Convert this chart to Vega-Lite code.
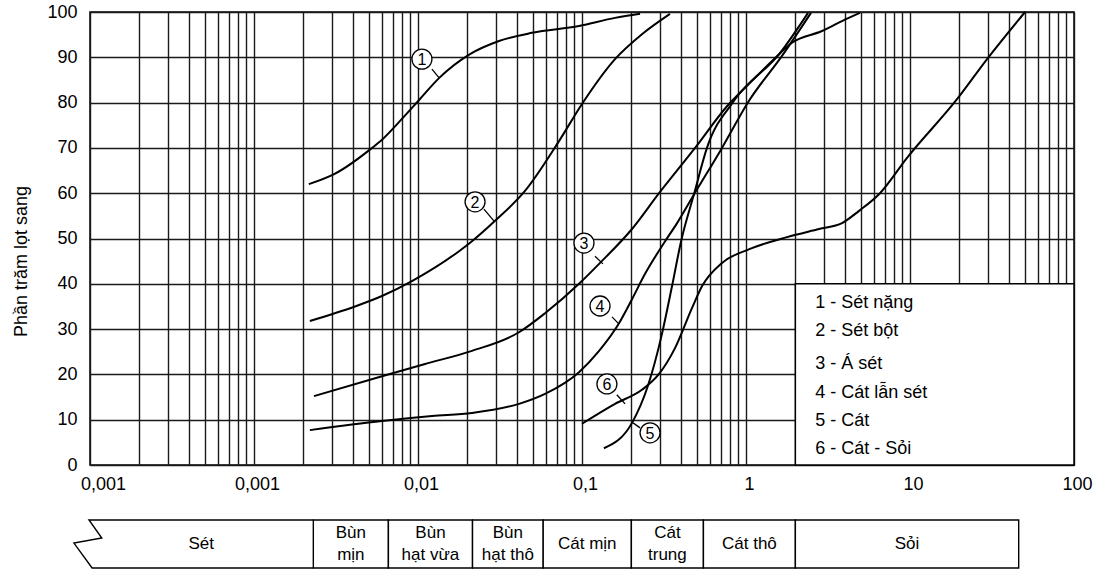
{
  "$schema": "https://vega.github.io/schema/vega-lite/v6.json",
  "background": "white",
  "padding": {"left": 12, "top": 2, "right": 5, "bottom": 2},
  "spacing": 23,
  "config": {
    "font": "Liberation Sans",
    "view": {"stroke": null},
    "axis": {"labelFont": "Liberation Sans", "titleFont": "Liberation Sans", "labelColor": "black", "titleColor": "black"}
  },
  "datasets": {
    "curves": [
      {"c": 1, "d": 0.00216, "p": 62.0}, {"c": 1, "d": 0.00308, "p": 64.2}, {"c": 1, "d": 0.00525, "p": 70.0}, {"c": 1, "d": 0.00603, "p": 71.8}, {"c": 1, "d": 0.00798, "p": 76.4}, {"c": 1, "d": 0.01028, "p": 80.8}, {"c": 1, "d": 0.01343, "p": 85.4}, {"c": 1, "d": 0.02075, "p": 90.7}, {"c": 1, "d": 0.0312, "p": 93.6}, {"c": 1, "d": 0.0496, "p": 95.4}, {"c": 1, "d": 0.0959, "p": 96.9}, {"c": 1, "d": 0.159, "p": 98.7}, {"c": 1, "d": 0.226, "p": 99.6},
      {"c": 2, "d": 0.00219, "p": 31.8}, {"c": 2, "d": 0.00413, "p": 35.0}, {"c": 2, "d": 0.00603, "p": 37.3}, {"c": 2, "d": 0.00918, "p": 40.6}, {"c": 2, "d": 0.0178, "p": 47.2}, {"c": 2, "d": 0.0207, "p": 49.0}, {"c": 2, "d": 0.0295, "p": 53.9}, {"c": 2, "d": 0.0449, "p": 60.5}, {"c": 2, "d": 0.0724, "p": 71.5}, {"c": 2, "d": 0.1, "p": 79.7}, {"c": 2, "d": 0.159, "p": 89.6}, {"c": 2, "d": 0.232, "p": 95.1}, {"c": 2, "d": 0.344, "p": 99.6},
      {"c": 3, "d": 0.00232, "p": 15.2}, {"c": 3, "d": 0.00603, "p": 19.6}, {"c": 3, "d": 0.01104, "p": 22.3}, {"c": 3, "d": 0.02134, "p": 25.2}, {"c": 3, "d": 0.0413, "p": 29.3}, {"c": 3, "d": 0.0595, "p": 33.5}, {"c": 3, "d": 0.0959, "p": 40.0}, {"c": 3, "d": 0.1271, "p": 44.4}, {"c": 3, "d": 0.2018, "p": 52.1}, {"c": 3, "d": 0.295, "p": 60.0}, {"c": 3, "d": 0.489, "p": 70.0}, {"c": 3, "d": 0.766, "p": 79.2}, {"c": 3, "d": 1.088, "p": 84.8}, {"c": 3, "d": 1.502, "p": 89.8}, {"c": 3, "d": 1.908, "p": 93.2}, {"c": 3, "d": 2.905, "p": 95.8}, {"c": 3, "d": 3.85, "p": 98.0}, {"c": 3, "d": 4.95, "p": 99.8},
      {"c": 4, "d": 0.00219, "p": 7.7}, {"c": 4, "d": 0.00603, "p": 9.7}, {"c": 4, "d": 0.01218, "p": 10.8}, {"c": 4, "d": 0.02134, "p": 11.5}, {"c": 4, "d": 0.0413, "p": 13.5}, {"c": 4, "d": 0.0595, "p": 15.7}, {"c": 4, "d": 0.0959, "p": 20.5}, {"c": 4, "d": 0.1271, "p": 25.2}, {"c": 4, "d": 0.1682, "p": 31.3}, {"c": 4, "d": 0.2018, "p": 36.6}, {"c": 4, "d": 0.2424, "p": 42.2}, {"c": 4, "d": 0.3212, "p": 49.4}, {"c": 4, "d": 0.38, "p": 53.4}, {"c": 4, "d": 0.469, "p": 59.0}, {"c": 4, "d": 0.714, "p": 70.0}, {"c": 4, "d": 1.043, "p": 80.4}, {"c": 4, "d": 1.658, "p": 90.3}, {"c": 4, "d": 2.49, "p": 99.8},
      {"c": 5, "d": 0.136, "p": 3.7}, {"c": 5, "d": 0.2018, "p": 9.3}, {"c": 5, "d": 0.2524, "p": 17.5}, {"c": 5, "d": 0.3076, "p": 29.0}, {"c": 5, "d": 0.354, "p": 39.5}, {"c": 5, "d": 0.402, "p": 49.4}, {"c": 5, "d": 0.482, "p": 59.8}, {"c": 5, "d": 0.578, "p": 70.0}, {"c": 5, "d": 0.845, "p": 80.4}, {"c": 5, "d": 1.611, "p": 90.9}, {"c": 5, "d": 2.39, "p": 99.8},
      {"c": 6, "d": 0.1, "p": 9.1}, {"c": 6, "d": 0.159, "p": 13.5}, {"c": 6, "d": 0.232, "p": 16.6}, {"c": 6, "d": 0.295, "p": 20.1}, {"c": 6, "d": 0.369, "p": 25.8}, {"c": 6, "d": 0.469, "p": 34.7}, {"c": 6, "d": 0.54, "p": 39.5}, {"c": 6, "d": 0.714, "p": 44.6}, {"c": 6, "d": 1.057, "p": 47.7}, {"c": 6, "d": 1.778, "p": 50.3}, {"c": 6, "d": 2.787, "p": 52.1}, {"c": 6, "d": 3.85, "p": 53.4}, {"c": 6, "d": 4.89, "p": 56.1}, {"c": 6, "d": 6.56, "p": 60.0}, {"c": 6, "d": 9.59, "p": 67.8}, {"c": 6, "d": 19.4, "p": 80.8}, {"c": 6, "d": 29.5, "p": 89.6}, {"c": 6, "d": 50.3, "p": 100}
    ],
    "tags": [
      {"n": "1", "d": 0.01057, "p": 89.6},
      {"n": "2", "d": 0.02228, "p": 58.1},
      {"n": "3", "d": 0.1028, "p": 49.0},
      {"n": "4", "d": 0.1288, "p": 35.1},
      {"n": "5", "d": 0.26, "p": 7.1},
      {"n": "6", "d": 0.1419, "p": 17.9}
    ],
    "leaders": [
      {"n": "1", "d1": 0.01216, "p1": 87.4, "d2": 0.01342, "p2": 85.5},
      {"n": "2", "d1": 0.02523, "p1": 56.5, "d2": 0.02902, "p2": 53.9},
      {"n": "3", "d1": 0.12, "p1": 46.1, "d2": 0.1342, "p2": 44.4},
      {"n": "4", "d1": 0.1524, "p1": 32.7, "d2": 0.1682, "p2": 31.1},
      {"n": "6", "d1": 0.163, "p1": 15.5, "d2": 0.183, "p2": 13.5},
      {"n": "5", "d1": 0.226, "p1": 8.2, "d2": 0.2048, "p2": 9.3}
    ],
    "legendbox": [{"d1": 2, "d2": 100, "p1": 0, "p2": 40}],
    "legend": [
      {"label": "1 - Sét nặng", "d": 2.64, "p": 35.8},
      {"label": "2 - Sét bột", "d": 2.64, "p": 29.6},
      {"label": "3 - Á sét", "d": 2.64, "p": 22.3},
      {"label": "4 - Cát lẫn sét", "d": 2.64, "p": 15.9},
      {"label": "5 - Cát", "d": 2.64, "p": 9.7},
      {"label": "6 - Cát - Sỏi", "d": 2.64, "p": 3.5}
    ],
    "bands": [
      {"name": "Sét", "lines": 1, "lo": 0.0000986, "hi": 0.0023},
      {"name": "Bùn\nmịn", "lines": 2, "lo": 0.0023, "hi": 0.0066},
      {"name": "Bùn\nhạt vừa", "lines": 2, "lo": 0.0066, "hi": 0.0215},
      {"name": "Bùn\nhạt thô", "lines": 2, "lo": 0.0215, "hi": 0.058},
      {"name": "Cát mịn", "lines": 1, "lo": 0.058, "hi": 0.2},
      {"name": "Cát\ntrung", "lines": 2, "lo": 0.2, "hi": 0.55},
      {"name": "Cát thô", "lines": 1, "lo": 0.55, "hi": 2.0},
      {"name": "Sỏi", "lines": 1, "lo": 2.0, "hi": 46}
    ],
    "zig": [
      {"i": 0, "d": 0.0023, "v": 1},
      {"i": 1, "d": 0.0000986, "v": 1},
      {"i": 2, "d": 0.000118, "v": 0.625},
      {"i": 3, "d": 0.0000798, "v": 0.52},
      {"i": 4, "d": 0.000103, "v": 0},
      {"i": 5, "d": 0.0023, "v": 0}
    ]
  },
  "vconcat": [
    {
      "width": 984,
      "height": 453,
      "view": {"stroke": "black", "strokeWidth": 1.5},
      "layer": [
        {
          "data": {"name": "curves"},
          "mark": {"type": "line", "interpolate": "monotone", "color": "black", "strokeWidth": 2},
          "encoding": {
            "x": {
              "field": "d", "type": "quantitative",
              "scale": {"type": "log", "domain": [0.0001, 100], "nice": false},
              "axis": {
                "title": null,
                "values": [0.0001, 0.0002, 0.0003, 0.0004, 0.0005, 0.0006, 0.0007, 0.0008, 0.0009, 0.001, 0.002, 0.003, 0.004, 0.005, 0.006, 0.007, 0.008, 0.009, 0.01, 0.02, 0.03, 0.04, 0.05, 0.06, 0.07, 0.08, 0.09, 0.1, 0.2, 0.3, 0.4, 0.5, 0.6, 0.7, 0.8, 0.9, 1, 2, 3, 4, 5, 6, 7, 8, 9, 10, 20, 30, 40, 50, 60, 70, 80, 90, 100],
                "labelExpr": "datum.value == 0.0001 ? '0,001' : datum.value == 0.001 ? '0,001' : datum.value == 0.01 ? '0,01' : datum.value == 0.1 ? '0,1' : datum.value == 1 ? '1' : datum.value == 10 ? '10' : datum.value == 100 ? '100' : ''",
                "grid": true, "gridColor": "#1a1a1a", "gridWidth": 1.4, "gridOpacity": 1,
                "ticks": false, "domain": false,
                "labelFontSize": 18, "labelPadding": 10,
                "labelOverlap": false, "labelFlush": false,
                "labelOffset": {"condition": {"test": "datum.value < 0.0002", "value": 13}, "value": 3}
              }
            },
            "y": {
              "field": "p", "type": "quantitative",
              "scale": {"domain": [0, 100], "nice": false},
              "axis": {
                "values": [0, 10, 20, 30, 40, 50, 60, 70, 80, 90, 100],
                "grid": true, "gridColor": "#1a1a1a", "gridWidth": 1.4, "gridOpacity": 1,
                "ticks": false, "domain": false,
                "labelFontSize": 18, "labelPadding": 13,
                "title": "Phần trăm lọt sang", "titleFontSize": 18, "titleFontWeight": "normal", "titlePadding": 16,
                "titleY": 249
              }
            },
            "detail": {"field": "c", "type": "nominal"}
          }
        },
        {
          "data": {"name": "legendbox"},
          "mark": {"type": "rect", "fill": "white", "stroke": "black", "strokeWidth": 1.5},
          "encoding": {
            "x": {"field": "d1", "type": "quantitative"},
            "x2": {"field": "d2"},
            "y": {"field": "p1", "type": "quantitative"},
            "y2": {"field": "p2"}
          }
        },
        {
          "data": {"name": "legend"},
          "mark": {"type": "text", "align": "left", "baseline": "middle", "fontSize": 18, "color": "black"},
          "encoding": {
            "x": {"field": "d", "type": "quantitative"},
            "y": {"field": "p", "type": "quantitative"},
            "text": {"field": "label"}
          }
        },
        {
          "data": {"name": "leaders"},
          "mark": {"type": "rule", "color": "black", "strokeWidth": 1.3},
          "encoding": {
            "x": {"field": "d1", "type": "quantitative"},
            "x2": {"field": "d2"},
            "y": {"field": "p1", "type": "quantitative"},
            "y2": {"field": "p2"}
          }
        },
        {
          "data": {"name": "tags"},
          "mark": {"type": "point", "shape": "circle", "filled": true, "fill": "white", "stroke": "black", "strokeWidth": 1.3, "size": 400, "opacity": 1},
          "encoding": {
            "x": {"field": "d", "type": "quantitative"},
            "y": {"field": "p", "type": "quantitative"}
          }
        },
        {
          "data": {"name": "tags"},
          "mark": {"type": "text", "align": "center", "baseline": "middle", "fontSize": 16, "color": "black", "dy": 1},
          "encoding": {
            "x": {"field": "d", "type": "quantitative"},
            "y": {"field": "p", "type": "quantitative"},
            "text": {"field": "n"}
          }
        }
      ]
    },
    {
      "width": 984,
      "height": 48,
      "layer": [
        {
          "data": {"name": "bands"},
          "transform": [{"filter": "datum.lo > 0.001"}],
          "mark": {"type": "rect", "fill": "white", "stroke": "black", "strokeWidth": 1.4},
          "encoding": {
            "x": {"field": "lo", "type": "quantitative", "scale": {"type": "log", "domain": [0.0001, 100], "nice": false}, "axis": null},
            "x2": {"field": "hi"},
            "y": {"datum": 0, "type": "quantitative", "scale": {"domain": [0, 1], "nice": false}, "axis": null},
            "y2": {"datum": 1}
          }
        },
        {
          "data": {"name": "zig"},
          "mark": {"type": "line", "color": "black", "strokeWidth": 1.4},
          "encoding": {
            "x": {"field": "d", "type": "quantitative"},
            "y": {"field": "v", "type": "quantitative"},
            "order": {"field": "i", "type": "quantitative"}
          }
        },
        {
          "data": {"name": "bands"},
          "transform": [{"filter": "datum.lines == 1"}, {"calculate": "sqrt(datum.lo * datum.hi)", "as": "mid"}],
          "mark": {"type": "text", "align": "center", "baseline": "middle", "fontSize": 17, "color": "black"},
          "encoding": {
            "x": {"field": "mid", "type": "quantitative"},
            "y": {"datum": 0.5, "type": "quantitative"},
            "text": {"field": "name"}
          }
        },
        {
          "data": {"name": "bands"},
          "transform": [{"filter": "datum.lines == 2"}, {"calculate": "sqrt(datum.lo * datum.hi)", "as": "mid"}],
          "mark": {"type": "text", "align": "center", "baseline": "middle", "fontSize": 17, "lineHeight": 22, "lineBreak": "\n", "dy": -11, "color": "black"},
          "encoding": {
            "x": {"field": "mid", "type": "quantitative"},
            "y": {"datum": 0.5, "type": "quantitative"},
            "text": {"field": "name"}
          }
        }
      ]
    }
  ]
}
